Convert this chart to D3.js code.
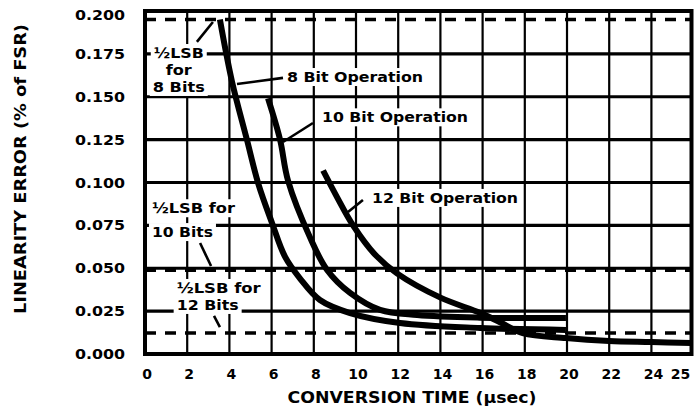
<!DOCTYPE html>
<html>
<head>
<meta charset="utf-8">
<script src="https://cdn.jsdelivr.net/npm/d3@7"></script>
<style>
  html, body { margin: 0; padding: 0; background: #fff; }
  svg { display: block; }
  text { font-family: "DejaVu Sans", "Liberation Sans", sans-serif; font-weight: bold; fill: #000; }
</style>
</head>
<body>
<svg id="chart" width="696" height="412"></svg>
<script>
// ---- data ----
const xTickValues = [0, 2, 4, 6, 8, 10, 12, 14, 16, 18, 20, 22, 24, 25];
const yTickValues = [0, 0.025, 0.05, 0.075, 0.1, 0.125, 0.15, 0.175, 0.2];
const xGridValues = [2, 4, 6, 8, 10, 12, 14, 16, 18, 20, 22, 24];
const yGridValues = [0.025, 0.05, 0.075, 0.1, 0.125, 0.15, 0.175];
const halfLsbLevels = [0.195, 0.0488, 0.0122]; // 1/2 LSB for 8, 10, 12 bits (% FSR)

// conversion time (µs) / linearity error (% FSR)
const bit8Time   = [3.55, 4.12, 4.83, 5.36, 6.02, 6.64, 7.35, 8.29, 9.72, 12.09, 15.88, 19.95];
const bit8Error  = [0.195, 0.159, 0.125, 0.0997, 0.0764, 0.0566, 0.0440, 0.0315, 0.0239, 0.0181, 0.0152, 0.0140];
const bit10Time  = [5.83, 6.40, 6.78, 7.82, 8.63, 9.72, 11.14, 12.9, 15.88, 19.95];
const bit10Error = [0.149, 0.125, 0.101, 0.068, 0.049, 0.0356, 0.0257, 0.0227, 0.0212, 0.0210];
const bit12Time  = [8.44, 9.10, 9.86, 10.9, 11.94, 13.98, 15.88, 16.8, 17.9, 19.95, 22.0, 24.0, 25.9];
const bit12Error = [0.107, 0.0915, 0.075, 0.058, 0.047, 0.033, 0.024, 0.0187, 0.0122, 0.0093, 0.0076, 0.0070, 0.0064];

const xMax = 25.9;

// annotations (text in data coordinates)
const labelTexts = [
  { lines: ["½LSB", "for", "8 Bits"], t: 1.6, v: [0.1755, 0.1656, 0.1557], anchor: "middle", lens: [50, 26, 52] },
  { lines: ["8 Bit Operation"], t: 6.73, v: [0.1615], anchor: "start", lens: [136] },
  { lines: ["10 Bit Operation"], t: 8.39, v: [0.138], anchor: "start", lens: [146] },
  { lines: ["12 Bit Operation"], t: 10.76, v: [0.091], anchor: "start", lens: [146] },
  { lines: ["½LSB for", "10 Bits"], t: 0.33, v: [0.085, 0.0711], anchor: "start", lens: [83, 61] },
  { lines: ["½LSB for", "12 Bits"], t: 1.5, v: [0.0385, 0.0286], anchor: "start", lens: [84, 62] }
];
const pointerStartT = [2.46, 4.36, 6.54, 9.62, 2.61, 3.27];
const pointerStartV = [0.182, 0.1574, 0.1236, 0.0828, 0.0647, 0.0222];
const pointerEndT   = [3.22, 6.54, 7.96, 10.33, 3.13, 3.55];
const pointerEndV   = [0.1936, 0.161, 0.1347, 0.0898, 0.0513, 0.0157];

// ---- drawing ----
const svg = d3.select("#chart");
const x = d3.scaleLinear().domain([0, xMax]).range([145, 691.5]);
const y = d3.scaleLinear().domain([0, 0.2]).range([354, 11]);

// grid
svg.append("g").selectAll("line").data(yGridValues).join("line")
  .attr("x1", x(0)).attr("x2", x(xMax))
  .attr("y1", d => y(d)).attr("y2", d => y(d))
  .attr("stroke", "#000").attr("stroke-width", 3.2);
svg.append("g").selectAll("line").data(xGridValues).join("line")
  .attr("x1", d => x(d)).attr("x2", d => x(d))
  .attr("y1", y(0)).attr("y2", y(0.2))
  .attr("stroke", "#000").attr("stroke-width", 2.2);

// 1/2 LSB dashed lines
svg.append("g").selectAll("line").data(halfLsbLevels).join("line")
  .attr("x1", x(0)).attr("x2", x(xMax))
  .attr("y1", d => y(d)).attr("y2", d => y(d))
  .attr("stroke", "#000").attr("stroke-width", 3.5)
  .attr("stroke-dasharray", "11,9");

// label backgrounds + text
const fs = 14;
const lblG = svg.append("g");
labelTexts.forEach(lb => {
  lb.lines.forEach((txt, i) => {
    const cx = x(lb.t), cy = y(lb.v[i]);
    const w = lb.lens[i];
    const left = lb.anchor === "middle" ? cx - w / 2 : cx;
    lblG.append("rect")
      .attr("x", left - 3).attr("y", cy - 9)
      .attr("width", w + 6).attr("height", 18)
      .attr("fill", "#fff");
  });
});
labelTexts.forEach(lb => {
  lb.lines.forEach((txt, i) => {
    lblG.append("text")
      .attr("x", x(lb.t)).attr("y", y(lb.v[i]))
      .attr("dy", "0.36em")
      .attr("text-anchor", lb.anchor)
      .attr("font-size", fs)
      .attr("textLength", lb.lens[i])
      .attr("lengthAdjust", "spacingAndGlyphs")
      .text(txt);
  });
});

// pointer lines
svg.append("g").selectAll("line").data(d3.range(pointerStartT.length)).join("line")
  .attr("x1", i => x(pointerStartT[i])).attr("y1", i => y(pointerStartV[i]))
  .attr("x2", i => x(pointerEndT[i])).attr("y2", i => y(pointerEndV[i]))
  .attr("stroke", "#000").attr("stroke-width", 2.6);

// curves
const line = d3.line().x(d => x(d[0])).y(d => y(d[1])).curve(d3.curveCatmullRom.alpha(0.5));
const series = [
  d3.zip(bit8Time, bit8Error),
  d3.zip(bit10Time, bit10Error),
  d3.zip(bit12Time, bit12Error)
];
svg.append("g").selectAll("path").data(series).join("path")
  .attr("d", line)
  .attr("fill", "none").attr("stroke", "#000")
  .attr("stroke-width", 6).attr("stroke-linecap", "butt");

// frame
svg.append("rect")
  .attr("x", x(0)).attr("y", y(0.2))
  .attr("width", x(xMax) - x(0)).attr("height", y(0) - y(0.2))
  .attr("fill", "none").attr("stroke", "#000").attr("stroke-width", 4);

// y tick labels
const yFmt = d3.format(".3f");
svg.append("g").selectAll("text").data(yTickValues).join("text")
  .attr("x", 125).attr("y", d => y(d) + (d === 0.2 ? 4 : 0))
  .attr("dy", "0.36em").attr("text-anchor", "end")
  .attr("font-size", 14)
  .attr("textLength", 50).attr("lengthAdjust", "spacingAndGlyphs")
  .text(d => yFmt(d));

// x tick labels
svg.append("g").selectAll("text").data(xTickValues).join("text")
  .attr("x", d => x(d) + (d === 25 ? 8 : 2)).attr("y", 374)
  .attr("dy", "0.36em").attr("text-anchor", "middle")
  .attr("font-size", 14)
  .text(d => d);

// axis titles
svg.append("text")
  .attr("x", 412).attr("y", 398).attr("dy", "0.36em")
  .attr("text-anchor", "middle").attr("font-size", 15)
  .attr("textLength", 249).attr("lengthAdjust", "spacingAndGlyphs")
  .text("CONVERSION TIME (µsec)");
svg.append("text")
  .attr("transform", "translate(20,169) rotate(-90)")
  .attr("dy", "0.36em")
  .attr("text-anchor", "middle").attr("font-size", 16)
  .attr("textLength", 290).attr("lengthAdjust", "spacingAndGlyphs")
  .text("LINEARITY ERROR (% of FSR)");
</script>
</body>
</html>
